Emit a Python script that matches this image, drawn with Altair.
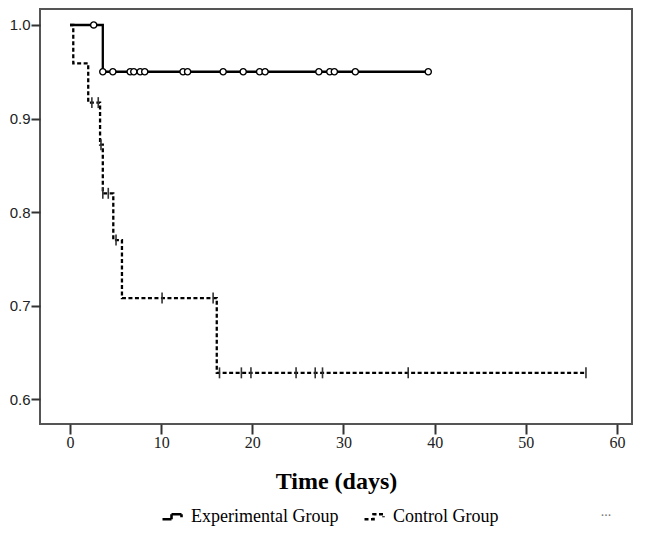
import altair as alt
import pandas as pd

# Experimental group: Kaplan-Meier steps
exp_time = [0, 3.6, 39.3]
exp_surv = [1.0, 0.95, 0.95]
# Experimental group: censored observations (circles)
exp_cens_time = [2.6, 3.6, 4.7, 6.6, 7.0, 7.7, 8.2, 12.4, 12.9, 16.8, 19.0, 20.8,
                 21.4, 27.3, 28.5, 29.0, 31.3, 39.3]
exp_cens_surv = [1.0, 0.95, 0.95, 0.95, 0.95, 0.95, 0.95, 0.95, 0.95, 0.95, 0.95,
                 0.95, 0.95, 0.95, 0.95, 0.95, 0.95, 0.95]

# Control group: Kaplan-Meier steps
ctl_time = [0, 0.36, 2.0, 3.3, 3.6, 4.75, 5.7, 16.1, 56.6]
ctl_surv = [1.0, 0.959, 0.917, 0.872, 0.820, 0.770, 0.708, 0.628, 0.628]
# Control group: censored observations (ticks)
ctl_cens_time = [2.4, 3.1, 3.4, 3.6, 4.2, 5.05, 10.1, 15.7, 16.4, 18.8, 19.85,
                 24.8, 26.9, 27.7, 37.1, 56.6]
ctl_cens_surv = [0.917, 0.917, 0.872, 0.820, 0.820, 0.770, 0.708, 0.708, 0.628,
                 0.628, 0.628, 0.628, 0.628, 0.628, 0.628, 0.628]

groups = ["Experimental Group", "Control Group"]
x_ticks = [0, 10, 20, 30, 40, 50, 60]
y_ticks = [0.6, 0.7, 0.8, 0.9, 1.0]

steps = pd.DataFrame({
    "t": exp_time + ctl_time,
    "s": exp_surv + ctl_surv,
    "g": [groups[0]] * len(exp_time) + [groups[1]] * len(ctl_time),
})
circ = pd.DataFrame({"t": exp_cens_time, "s": exp_cens_surv})
ticks = pd.DataFrame({"t": ctl_cens_time, "s": ctl_cens_surv})

xscale = alt.Scale(domain=[-3.29, 61.65], nice=False, zero=False)
yscale = alt.Scale(domain=[0.5733, 1.0171], nice=False, zero=False)

xaxis = alt.Axis(values=x_ticks, format="d", title="Time (days)", grid=False,
                 domain=False, tickSize=10, tickWidth=2, tickColor="#333",
                 labelFont="Liberation Serif", labelFontSize=16, labelColor="#222",
                 labelPadding=0, titleFont="Liberation Serif", titleFontSize=24,
                 titleFontWeight="bold", titleColor="black", titlePadding=19)
yaxis = alt.Axis(values=y_ticks, format=".1f", title=None, grid=False,
                 domain=False, tickSize=9, tickWidth=2, tickColor="#333",
                 labelFont="Liberation Sans", labelFontSize=15, labelColor="#222",
                 labelPadding=1)

X = alt.X("t:Q", scale=xscale, axis=xaxis)
Y = alt.Y("s:Q", scale=yscale, axis=yaxis)

lines = alt.Chart(steps).mark_line(interpolate="step-after", color="black",
                                   strokeWidth=2.3).encode(
    x=X, y=Y,
    strokeDash=alt.StrokeDash(
        "g:N",
        scale=alt.Scale(domain=groups, range=[[1, 0], [4, 2.5]]),
        legend=alt.Legend(
            orient="none", legendX=121, legendY=496, direction="horizontal",
            title=None, symbolType="M-1,0.25H-0.1V-0.25H0.9V0.05",
            symbolSize=400, symbolStrokeWidth=2.6, symbolStrokeColor="black",
            symbolFillColor="transparent", labelFont="Liberation Serif",
            labelFontSize=18, labelColor="black", labelOffset=7,
            columnPadding=20, padding=0,
        ),
    ),
    detail="g:N",
)

circles = alt.Chart(circ).mark_point(shape="circle", filled=True, fill="white",
                                     stroke="black", strokeWidth=1.4, size=38,
                                     opacity=1).encode(x=X, y=Y)

cticks = alt.Chart(ticks).mark_point(shape="M0,-1L0,1", filled=False,
                                     stroke="#333", strokeWidth=1.6, size=120,
                                     opacity=1).encode(x=X, y=Y)

dots = alt.Chart(pd.DataFrame({"txt": ["..."]})).mark_text(
    color="#777", fontSize=14, font="Liberation Serif", align="center"
).encode(text="txt:N", x=alt.value(566), y=alt.value(503))

chart = alt.layer(lines, circles, cticks, dots).properties(
    width=592, height=415,
    autosize=alt.AutoSizeParams(type="none"),
    padding={"left": 32, "top": 1, "right": 8, "bottom": 103},
    background="white",
).configure_view(stroke="#555", strokeWidth=2)

chart.save("out.html", embed_options={"renderer": "svg", "actions": False})
